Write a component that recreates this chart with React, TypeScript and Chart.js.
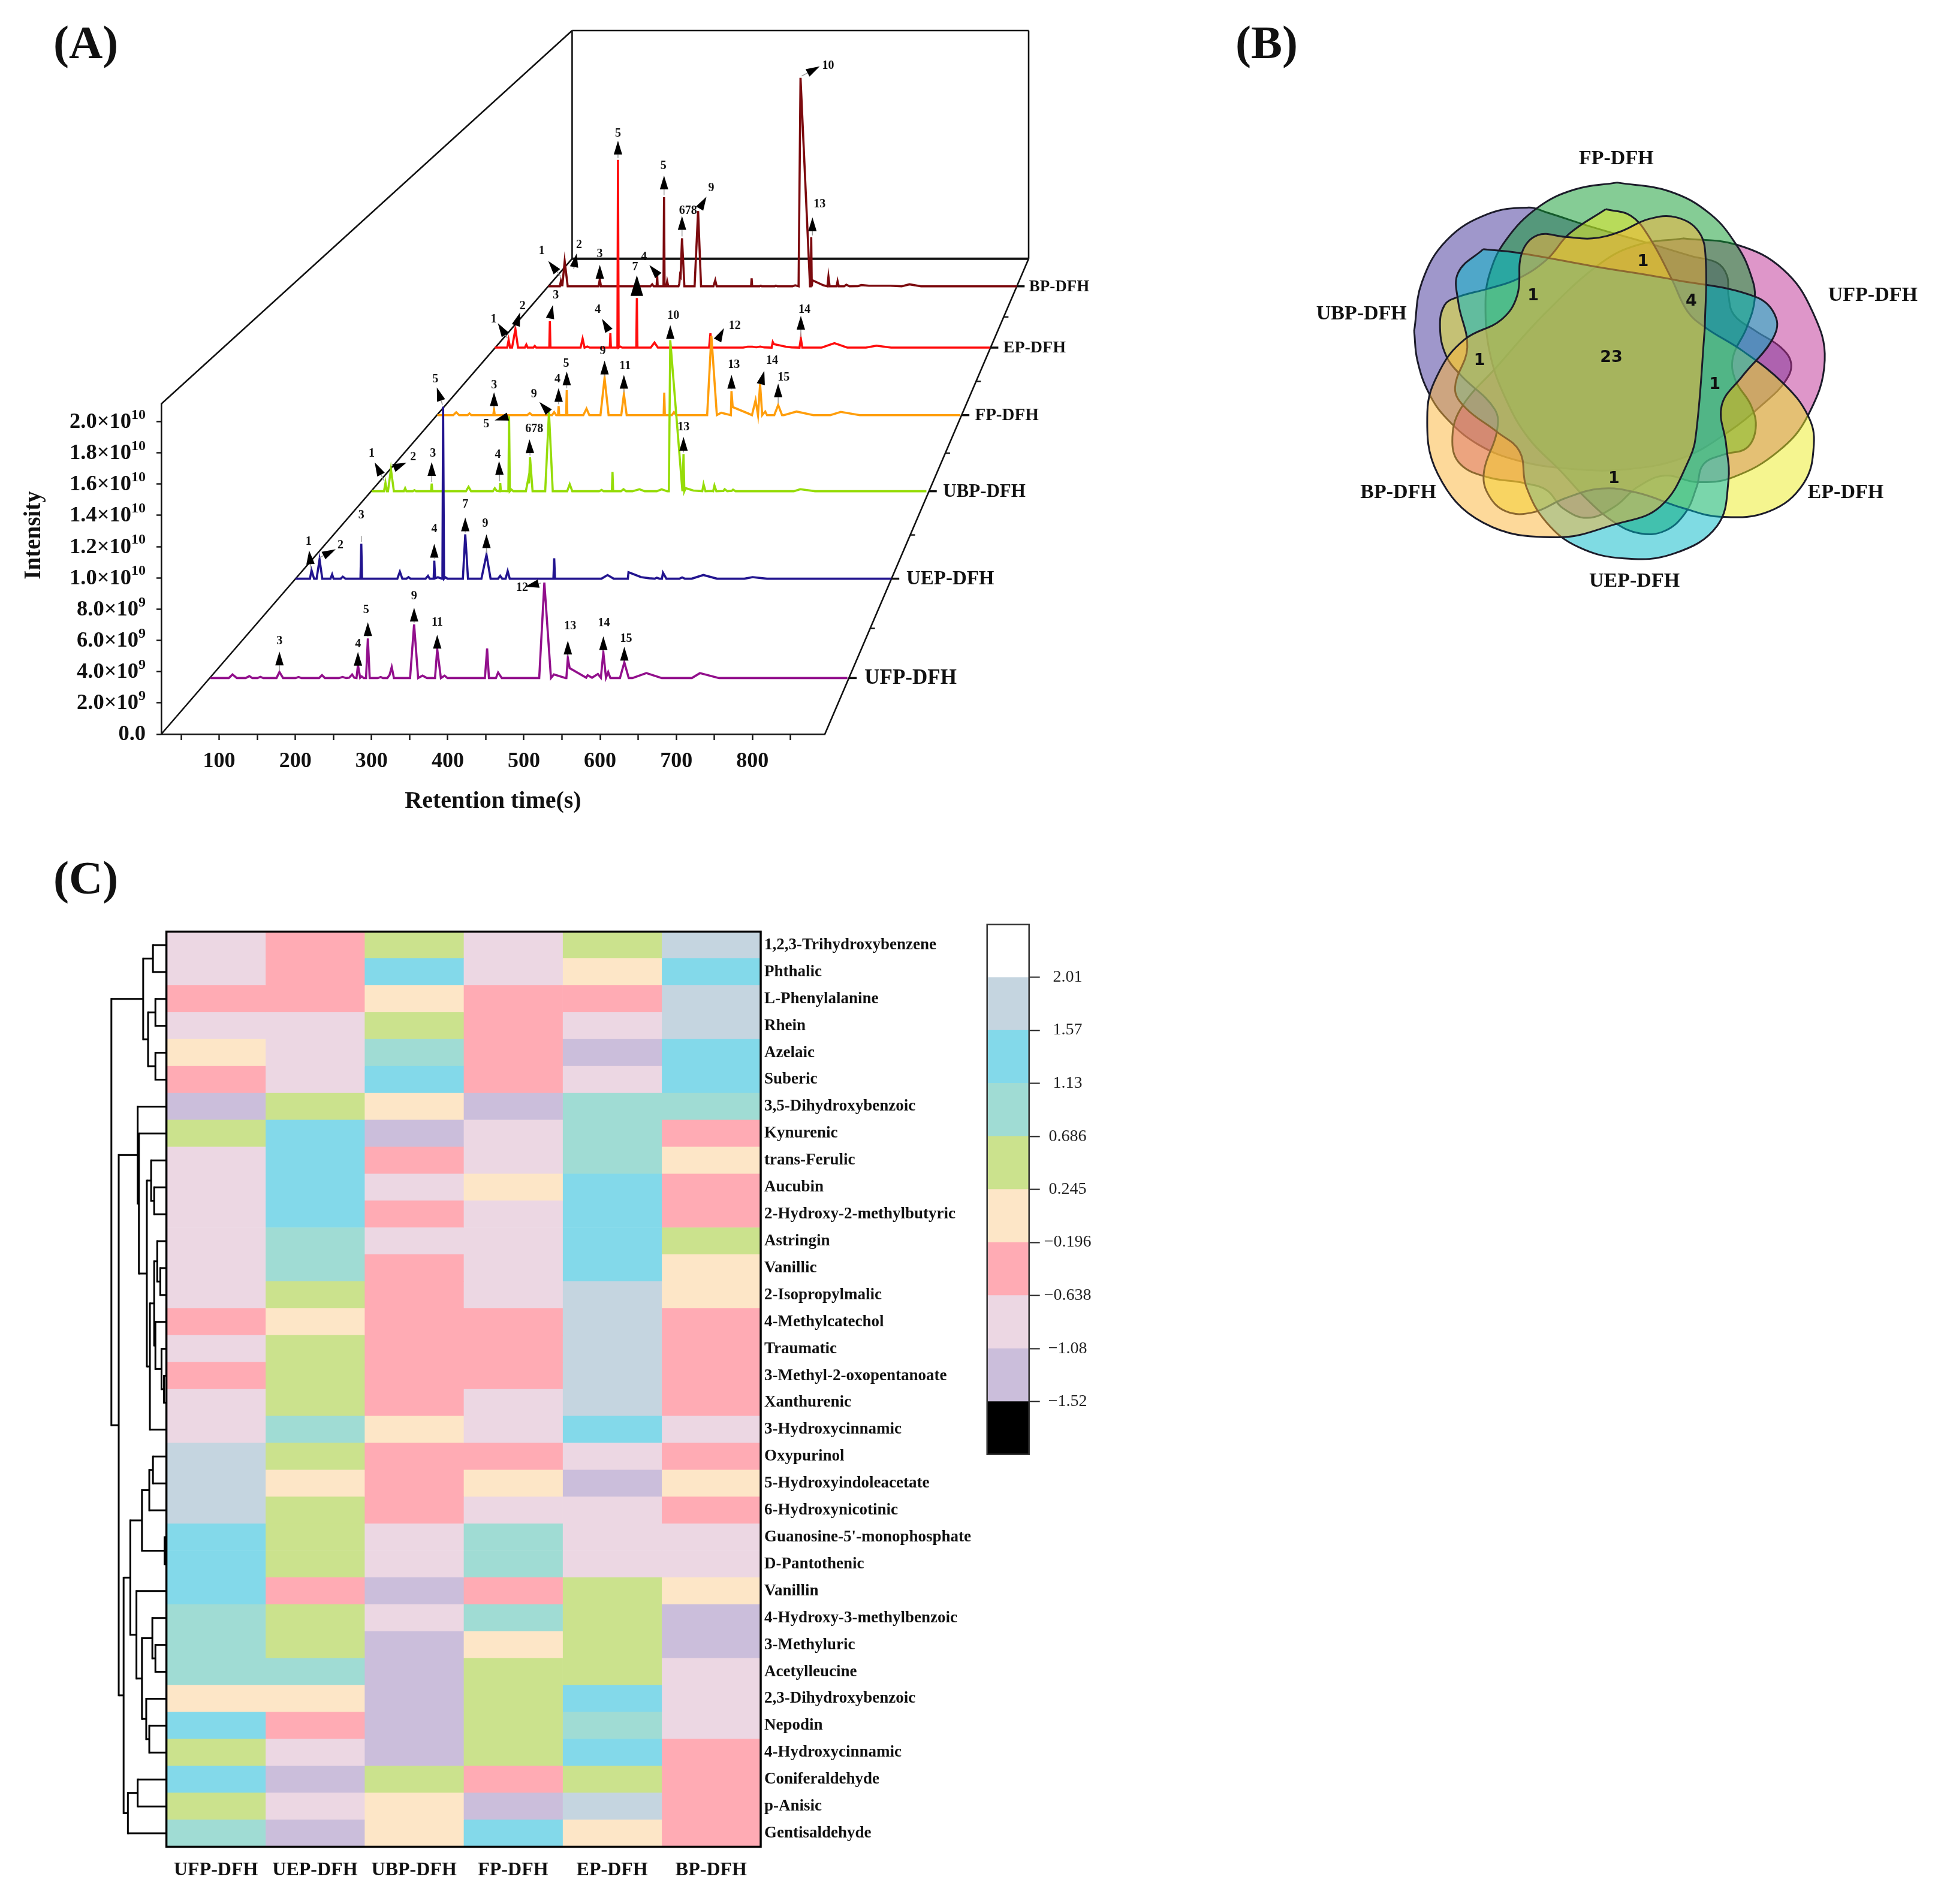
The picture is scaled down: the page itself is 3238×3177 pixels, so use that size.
import React, { useEffect, useRef } from "react";
import { Chart, registerables } from "chart.js";

Chart.register(...registerables);

const SERIF = '"Liberation Serif"';

/* ---------- Panel A: chromatogram traces, [retention time (s), intensity (1e9)] ---------- */
const SERIES_NAMES = ["UFP-DFH", "UEP-DFH", "UBP-DFH", "FP-DFH", "EP-DFH", "BP-DFH"];

const ufpTrace = [[25,0],[50,0],[55,.24],[61,0],[73,0],[78,.13],[82,0],[89,0],[93,.08],[97,0],[115,0],[119,.4],[124,0],[141,0],[145,.07],[149,0],[173,0],[177,.19],[181,0],[200,0],[205,.07],[210,0],[214,.02],[218,.24],[221,.02],[224,0],[226,.86],[229,.02],[231,.11],[234,0],[237,0],[239.5,2.63],[242,0],[253,0],[257,.07],[260,0],[266,0],[269,.2],[272,.73],[275,0],[297,0],[302.5,3.56],[308,0],[314,.16],[320,0],[331,0],[334,1.92],[339,0],[344,.16],[348,0],[399,0],[402,1.96],[404.5,0],[414,0],[417,.37],[422,0],[473,0],[480,6.34],[489,0],[493,.24],[509,0],[510,0],[512,1.33],[514.5,.66],[537,.02],[539,.19],[545,.02],[553,.27],[557,.02],[560.4,1.7],[564,.02],[567,.4],[570,0],[583,0],[589,1.04],[595,0],[600,0],[619,.33],[640,0],[681,0],[692,.33],[718,0],[893,0]];
const uepTrace = [[24,0],[45,0],[47.3,.6],[51,0],[54.7,0],[59,1.37],[63,0],[75,0],[77.4,.31],[79.5,0],[90,0],[93,.14],[97,0],[118.8,0],[120,2.49],[121.2,0],[172.7,0],[176.4,.5],[180,0],[186,0],[189,.11],[192,0],[214,0],[217.5,.2],[220,0],[225.8,0],[226.7,1.28],[228,.03],[232,.1],[238,0],[238.6,0],[239.6,12.25],[241,0],[243,.1],[246,0],[268.5,0],[272,3.16],[276,0],[295.6,0],[303,1.71],[309,0],[320,0],[323,.2],[326,0],[331,0],[334,.54],[337,0],[400.8,0],[402,1.45],[403.2,0],[471,0],[480,.26],[489,0],[509.6,0],[510.6,.46],[529,.11],[541,.03],[549,0],[552,.07],[556,0],[559.5,0],[561,.43],[566,0],[585,0],[589,.09],[593,0],[603,0],[620,.26],[640,0],[680,0],[692,.11],[713,0],[895,0]];
const ubpTrace = [[24.6,0],[44,0],[46.3,.64],[48.5,0],[50.2,0],[54.8,1.67],[59.4,0],[75,0],[77,.23],[79,0],[89,0],[91.6,.08],[94,0],[117.5,0],[118.5,.58],[119.5,0],[172,0],[176,.33],[180,0],[214,0],[217,.23],[220,.03],[224.5,0],[225.5,.61],[226.5,.02],[238.2,0],[239.3,5.7],[240.5,0],[243,.12],[246,0],[265.5,0],[269.5,.99],[270.5,.6],[272,2.58],[276,0],[295.7,0],[301.6,6.0],[307.5,0],[330,0],[334,.53],[338,0],[380,0],[383.7,.09],[387,0],[399.8,0],[400.8,1.46],[401.8,0],[414,0],[418,.15],[422,0],[432,0],[443,.15],[451,0],[470,0],[477.6,.15],[486,0],[488.8,0],[491,11.48],[510,0],[511.7,2.81],[513,0],[515,.23],[527,.05],[541,0],[543,.53],[546,0],[556,.02],[558,0],[560,.43],[563,0],[574,.02],[576,.15],[580,0],[587,.03],[589,.12],[593,0],[684,0],[694,.15],[717,0],[891,0]];
const fpTrace = [[24.6,0],[51,0],[56,.23],[61,0],[75,0],[78,.13],[81,0],[117.5,0],[118.8,.45],[120,0],[174,0],[178,.16],[182,0],[215,0],[218.6,.24],[222,0],[225,0],[226,.73],[227,0],[238.5,0],[239.5,2.02],[240.5,0],[267,0],[272.3,.52],[277,0],[295.5,0],[302.3,3.0],[309,0],[330,0],[334.4,1.7],[339,0],[400.4,0],[401.4,1.81],[402.4,0],[414,0],[417.5,.24],[421,0],[472.6,0],[479.6,6.39],[488.7,0],[496,.19],[505,.08],[512,0],[513,1.94],[515,.65],[541,.13],[547,0],[553,1.21],[557,0],[560.5,2.51],[564,0],[569,.29],[572,0],[584,0],[590.5,.81],[597,0],[600,0],[621,.29],[649,0],[677,0],[694.5,.26],[726,0],[893,0]];
const epTrace = [[23.1,0],[45,0],[47.5,.65],[50,0],[53.5,0],[59.4,1.58],[64,0],[76,0],[78.6,.26],[81,0],[91,0],[93.4,.14],[96,0],[119,0],[120,2.26],[121,0],[174,0],[177.6,.77],[181,0],[186,.09],[190,0],[225.4,0],[226.4,1.23],[227.4,0],[238.8,0],[239.8,16.05],[241,0],[244,.09],[247,0],[272,0],[273,4.24],[274,0],[297.4,0],[304,.43],[310,0],[400,0],[402.4,1.23],[404,0],[460,0],[468,.08],[476,.08],[483,.03],[490,.09],[497,.02],[510,0],[512,.48],[514,.3],[535,.08],[545,.02],[559,0],[561.4,.77],[564,0],[598,0],[620.5,.38],[643,0],[676,0],[694.4,.17],[720,0],[894,0]];
const bpTrace = [[24,0],[45.5,0],[47.4,.45],[49,.1],[50.2,.1],[54.5,2.26],[60.1,0],[117.5,0],[119.8,.63],[122,0],[214,0],[217.2,.18],[220,0],[225.4,0],[226.4,1.0],[227.4,0],[238.2,0],[239.2,8.05],[240.2,0],[243.5,0],[245,.45],[247,0],[266,0],[267.5,.2],[269,1.0],[270,.9],[272.6,4.34],[277,0],[296,0],[302.5,6.79],[308,0],[331,0],[334.4,.54],[337,0],[401,0],[402,.72],[403,0],[417,0],[419,.05],[421,0],[445,0],[447,.05],[450,0],[478,0],[483,.09],[489.3,0],[492.9,18.82],[510.6,0],[511.8,0],[512.8,4.43],[513.8,0],[515,.54],[535.5,.09],[543,0],[544.8,.87],[547,0],[560,0],[561.8,.45],[564,0],[574,0],[578,.14],[584,0],[600,.02],[606,.11],[620,.05],[640,.05],[660,.05],[681,0],[695.4,.18],[717,0],[894.7,0]];
const TRACES = [ufpTrace, uepTrace, ubpTrace, fpTrace, epTrace, bpTrace];

/* peak marks: retention time, intensity, compound number */
const ufpMarks = [[119,.4,"3"],[226,.86,"4"],[239.5,2.63,"5"],[302.5,3.56,"9"],[334,1.92,"11"],[480,6.34,"12"],[512,1.33,"13"],[560.4,1.7,"14"],[589,1.04,"15"]];
const uepMarks = [[47.3,.6,"1"],[59,1.37,"2"],[120,2.49,"3"],[226.7,1.28,"4"],[239.6,12.25,"5"],[272,3.16,"7"],[303,1.71,"9"]];
const ubpMarks = [[46.3,.64,"1"],[54.8,1.67,"2"],[118.5,.58,"3"],[225.5,.61,"4"],[239.3,5.7,"5"],[272,2.58,"678"],[301.6,6.0,"9"],[491,11.48,"10"],[511.7,2.81,"13"]];
const fpMarks = [[118.8,.45,"3"],[226,.73,"4"],[239.5,2.02,"5"],[302.3,3.0,"9"],[334.4,1.7,"11"],[479.6,6.39,"12"],[513,1.94,"13"],[560.5,2.51,"14"],[590.5,.81,"15"]];
const epMarks = [[47.5,.65,"1"],[59.4,1.58,"2"],[120,2.26,"3"],[226.4,1.23,"4"],[239.8,16.05,"5"],[273,4.24,"7"],[561.4,.77,"14"]];
const bpMarks = [[47.4,.45,"1"],[54.5,2.26,"2"],[119.8,.63,"3"],[226.4,1,"4"],[239.2,8.05,"5"],[272.6,4.34,"678"],[302.5,6.79,"9"],[492.9,18.82,"10"],[512.8,4.43,"13"]];
const MARKS = [ufpMarks, uepMarks, ubpMarks, fpMarks, epMarks, bpMarks];

/* arrow drawing offsets in px from the peak apex (style only): from, tip, label, head scale */
const ARROW_STYLE = [
  [[0,-3,0,-34,0,-52],[0,-3,0,-22,0,-35],[0,-3,0,-27,-3,-47],[0,-3,0,-28,0,-47],[0,-3,0,-24,0,-44],[-6,1,-32,7,-37,9],[0,-3,0,-29,4,-53],[0,-3,0,-27,1,-49],[0,-3,0,-26,3,-39]],
  [[-1,-3,-4,-33,-5,-48],[0,-3,27,-17,35,-24],[0,-3,0,-13,0,-47,0],[0,-3,0,-28,0,-53],[-1,-3,-10.5,-32,-13,-46],[0,-3,0,-28,0,-50],[0,-3,0,-34,-2,-52]],
  [[-2,-3,-18,-34,-23,-49],[5,-2,26,-11,37,-20],[0,-3,0,-36,2,-50],[-1,-3,-2,-37,-4,-47],[-3,1,-24,7,-38,13],[0,-3,-1,-30,7,-47],[-2,-2,-16,-17,-25,-30],[0,-3,0,-25,5,-41],[0,-3,0,-29,0,-45]],
  [[0,-3,0,-29,0,-41],[0,-3,0,-30,-2,-45],[0,-3,0,-31,-1,-44],[0,-3,0,-29,-3,-45],[0,-3,0,-32,2,-47],[11,6,21,-13,39,-17],[0,-3,0,-27,4,-44],[2,-3,7,-22,20,-39],[0,-3,0,-36,9,-46]],
  [[-2,-3,-18,-28,-25,-35],[0,-4,8,-28,12,-38],[0,-3,5,-27,10,-43],[-3,-5,-14,-24,-21,-39],[0,-3,0,-32,0,-44],[0,-3,0,-38,-3,-51,1.5],[0,-3,0,-38,6,-48]],
  [[0,-8,-21,-34,-32,-51],[15,13,20,-13,24,-27],[0,-3,0,-24,0,-42],[-1,-3,-13,-17,-22,-30],[0,-3,0,-36,-1,-52],[0,-3,0,-37,10,-46],[3,-5,14,-24,22,-38],[2,-3,32,-19,46,-20],[2,-3,2,-33,14,-55]],
];
const TRACE_COLORS = ["#920F8C", "#22148F", "#96DC08", "#FF9E0C", "#FF0D0D", "#7C0A0E"];
const TRACE_DEPTH = [0.118, 0.327, 0.511, 0.671, 0.813, 0.942];
const NAME_FONT = [35, 33, 31, 29, 28, 27];
const RT_MIN = 24, RT_MAX = 895, I_MAX = 21.13;
const Y_TICKS = [0,2,4,6,8,10,12,14,16,18,20];
const FRONT = { l: 269, r: 1376, t: 674, b: 1225 };
const BACK = { l: 954.4, r: 1716, t: 51, b: 431.7 };
const lerp = (a: number, b: number, t: number) => a + (b - a) * t;
const plane = (t: number) => ({
  l: lerp(FRONT.l, BACK.l, t), r: lerp(FRONT.r, BACK.r, t),
  t: lerp(FRONT.t, BACK.t, t), b: lerp(FRONT.b, BACK.b, t),
});

function traceScales() {
  const out: any = {};
  TRACE_DEPTH.forEach((d, i) => {
    const p = plane(d);
    const u = (p.r - p.l) / (RT_MAX - RT_MIN);
    const k = (p.b - p.t) / I_MAX;
    const xMin = RT_MIN + (FRONT.l - p.l) / u, xMax = RT_MIN + (FRONT.r - p.l) / u;
    /* limits are set after tick building so the line controller keeps points past the chart's right edge */
    out["x" + i] = { type: "linear", axis: "x", display: false, afterBuildTicks: (s: any) => { s.min = xMin; s.max = xMax; } };
    out["y" + i] = { type: "linear", axis: "y", display: false, min: (p.b - FRONT.b) / k, max: (p.b - FRONT.t) / k };
  });
  return out;
}

function seg(ctx: any, x1: number, y1: number, x2: number, y2: number) {
  ctx.beginPath(); ctx.moveTo(x1, y1); ctx.lineTo(x2, y2); ctx.stroke();
}

const panelAFrame = {
  id: "panelAFrame",
  beforeDatasetsDraw(chart: any) {
    const c = chart.ctx;
    c.save();
    c.strokeStyle = "#111"; c.lineWidth = 2.6;
    seg(c, FRONT.l, FRONT.b, BACK.l, BACK.b);
    seg(c, FRONT.l, FRONT.t, BACK.l, BACK.t);
    seg(c, FRONT.r, FRONT.b, BACK.r, BACK.b);
    seg(c, BACK.l, BACK.t, BACK.r, BACK.t);
    seg(c, BACK.l, BACK.t, BACK.l, BACK.b);
    seg(c, BACK.r, BACK.t, BACK.r, BACK.b);
    c.lineWidth = 4; seg(c, BACK.l, BACK.b, BACK.r, BACK.b);
    c.lineWidth = 2.4;
    for (let i = 0; i < TRACE_DEPTH.length - 1; i++) {
      const p = plane((TRACE_DEPTH[i] + TRACE_DEPTH[i + 1]) / 2);
      seg(c, p.r, p.b, p.r + 8, p.b);
    }
    c.restore();
  },
  afterDatasetsDraw(chart: any) {
    const c = chart.ctx;
    c.save();
    TRACE_DEPTH.forEach((d, i) => {
      const p = plane(d);
      c.strokeStyle = "#111"; c.lineWidth = 3.5;
      seg(c, p.r, p.b, p.r + 13, p.b);
      c.fillStyle = "#111"; c.font = `bold ${NAME_FONT[i]}px ${SERIF}`;
      c.textAlign = "left"; c.textBaseline = "middle";
      c.fillText(SERIES_NAMES[i], p.r + 20 + 7 * (1 - d), p.b + 1);
      const xs = chart.scales["x" + i], ys = chart.scales["y" + i];
      MARKS[i].forEach((m: any, j: number) => {
        const [fx, fy, tx, ty, lx, ly, hs = 1] = ARROW_STYLE[i][j] as number[];
        const ax = xs.getPixelForValue(m[0]), ay = ys.getPixelForValue(m[1]);
        const dx = tx - fx, dy = ty - fy, len = Math.hypot(dx, dy) || 1;
        const ux = dx / len, uy = dy / len;
        const hl = 23 * hs, hw = 7 * hs;
        c.strokeStyle = "#9a9a9a"; c.lineWidth = 1.5;
        const tailEnd = hs ? Math.max(len - hl, 0) : len;
        seg(c, ax + fx, ay + fy, ax + fx + ux * tailEnd, ay + fy + uy * tailEnd);
        if (hs) {
          const bx = ax + tx - ux * hl, by = ay + ty - uy * hl;
          c.fillStyle = "#000";
          c.beginPath();
          c.moveTo(ax + tx, ay + ty);
          c.lineTo(bx - uy * hw, by + ux * hw);
          c.lineTo(bx + uy * hw, by - ux * hw);
          c.closePath(); c.fill();
        }
        c.fillStyle = "#111"; c.font = `bold 20px ${SERIF}`;
        c.textAlign = "center"; c.textBaseline = "middle";
        c.fillText(m[2], ax + lx, ay + ly);
      });
    });
    /* intensity tick labels with a real superscript exponent */
    const ym = chart.scales.yMain;
    c.fillStyle = "#111";
    Y_TICKS.forEach((v) => {
      const y = ym.getPixelForValue(v);
      const base = v === 0 ? "0.0" : (v < 10 ? v.toFixed(1) : (v / 10).toFixed(1)) + "\u00D710";
      const exp = v === 0 ? "" : v < 10 ? "9" : "10";
      c.textBaseline = "middle"; c.textAlign = "left";
      c.font = `bold 24px ${SERIF}`;
      const ew = c.measureText(exp).width;
      c.font = `bold 36.5px ${SERIF}`;
      const bw = c.measureText(base).width;
      const right = FRONT.l - 26;
      c.fillText(base, right - ew - bw, y + 1);
      c.font = `bold 24px ${SERIF}`;
      c.fillText(exp, right - ew, y - 11);
    });
    c.font = `bold 39px ${SERIF}`;
    c.translate(57, 893); c.rotate(-Math.PI / 2);
    c.textAlign = "center"; c.textBaseline = "middle";
    c.fillText("Intensity", 0, 0);
    c.restore();
  },
};

/* ---------- Panel B: six-set Venn outlines, in Venn-plane units ---------- */
const VENN_EXTENT = 1568;
const bpOutline = [[1048,640],[1050,430],[1035,345],[985,300],[925,305],[860,345],[800,365],[740,360],[680,355],[645,410],[635,540],[600,615],[520,675],[465,770],[437,900],[460,1090],[560,1240],[720,1285],[850,1245],[950,1190],[1015,1040],[1030,950],[1048,640]];
const uepOutline = [[560,398],[640,410],[800,450],[980,492],[1160,545],[1205,610],[1195,680],[1130,790],[1085,880],[1095,1000],[1100,1110],[1075,1250],[980,1335],[870,1350],[770,1315],[700,1240],[655,1130],[640,1020],[590,960],[520,885],[498,825],[525,700],[505,560],[505,470],[560,398]];
const ubpOutline = [[408,650],[425,500],[480,370],[570,290],[660,270],[700,285],[800,330],[920,378],[1020,420],[1075,440],[1097,480],[1100,540],[1112,600],[1160,650],[1215,700],[1238,750],[1225,805],[1180,870],[1100,960],[1000,1040],[880,1075],[760,1075],[640,1050],[550,1000],[480,920],[440,840],[415,740],[408,650]];
const epOutline = [[830,275],[885,295],[925,360],[975,490],[1010,590],[1050,640],[1130,710],[1220,810],[1275,910],[1288,1000],[1265,1120],[1190,1205],[1085,1222],[1000,1195],[900,1148],[820,1135],[740,1165],[670,1208],[610,1205],[570,1150],[562,1080],[590,960],[585,890],[510,785],[478,725],[465,640],[475,570],[505,545],[570,520],[635,490],[700,430],[750,350],[830,275]];
const fpOutline = [[855,193],[970,220],[1060,290],[1120,390],[1150,480],[1158,550],[1140,640],[1110,730],[1115,800],[1150,880],[1160,950],[1140,1010],[1090,1030],[1045,1060],[1030,1130],[1005,1210],[960,1265],[905,1273],[850,1240],[790,1170],[730,1080],[660,980],[610,860],[575,720],[565,570],[575,470],[610,370],[680,270],[760,215],[855,193]];
const ufpOutline = [[1000,365],[1120,385],[1220,460],[1285,590],[1312,740],[1275,910],[1210,1020],[1110,1100],[1030,1115],[960,1095],[900,1130],[850,1190],[790,1225],[735,1195],[700,1140],[650,1118],[570,1100],[510,1060],[492,990],[510,890],[590,760],[700,590],[820,440],[900,385],[1000,365]];
const VENN_SETS = [
  { name: "BP-DFH", pts: bpOutline, fill: "rgba(251,179,53,0.5)" },
  { name: "UEP-DFH", pts: uepOutline, fill: "rgba(0,183,199,0.5)" },
  { name: "EP-DFH", pts: epOutline, fill: "rgba(235,235,31,0.5)" },
  { name: "FP-DFH", pts: fpOutline, fill: "rgba(11,153,43,0.5)" },
  { name: "UFP-DFH", pts: ufpOutline, fill: "rgba(189,45,147,0.5)" },
  { name: "UBP-DFH", pts: ubpOutline, fill: "rgba(63,47,151,0.5)" },
];
const vennNames = [["FP-DFH",853,120],["UFP-DFH",1418,540],["EP-DFH",1358,1148],["UEP-DFH",893,1420],["BP-DFH",373,1148],["UBP-DFH",292,598]];
const vennCounts = [["23",842,732],["1",912,437],["1",670,543],["4",1018,558],["1",552,742],["1",1070,815],["1",848,1105]];

const vennText = {
  id: "vennText",
  afterDatasetsDraw(chart: any) {
    const c = chart.ctx, xs = chart.scales.x, ys = chart.scales.y;
    c.save();
    c.textAlign = "center"; c.textBaseline = "middle"; c.fillStyle = "#111";
    c.font = `bold 34px ${SERIF}`;
    vennNames.forEach((n: any) => c.fillText(n[0], xs.getPixelForValue(n[1]), ys.getPixelForValue(n[2])));
    c.font = 'bold 27px "DejaVu Sans"';
    vennCounts.forEach((n: any) => c.fillText(n[0], xs.getPixelForValue(n[1]), ys.getPixelForValue(n[2])));
    c.restore();
  },
};

/* ---------- Panel C: heat map ---------- */
const COMPOUNDS = ["1,2,3-Trihydroxybenzene","Phthalic","L-Phenylalanine","Rhein","Azelaic","Suberic","3,5-Dihydroxybenzoic","Kynurenic","trans-Ferulic","Aucubin","2-Hydroxy-2-methylbutyric","Astringin","Vanillic","2-Isopropylmalic","4-Methylcatechol","Traumatic","3-Methyl-2-oxopentanoate","Xanthurenic","3-Hydroxycinnamic","Oxypurinol","5-Hydroxyindoleacetate","6-Hydroxynicotinic","Guanosine-5'-monophosphate","D-Pantothenic","Vanillin","4-Hydroxy-3-methylbenzoic","3-Methyluric","Acetylleucine","2,3-Dihydroxybenzoic","Nepodin","4-Hydroxycinnamic","Coniferaldehyde","p-Anisic","Gentisaldehyde"];
const zUFP = [-.86,-.86,-.42,-.86,.02,-.42,-1.3,.47,-.86,-.86,-.86,-.86,-.86,-.86,-.42,-.86,-.42,-.86,-.86,1.79,1.79,1.79,1.35,1.35,1.35,.91,.91,.91,.02,1.35,.47,1.35,.47,.91];
const zUEP = [-.42,-.42,-.42,-.86,-.86,-.86,.47,1.35,1.35,1.35,1.35,.91,.91,.47,.02,.47,.47,.47,.91,.47,.02,.47,.47,.47,-.42,.47,.47,.91,.02,-.42,-.86,-1.3,-.86,-1.3];
const zUBP = [.47,1.35,.02,.47,.91,1.35,.02,-1.3,-.42,-.86,-.42,-.86,-.42,-.42,-.42,-.42,-.42,-.42,.02,-.42,-.42,-.42,-.86,-.86,-1.3,-.86,-1.3,-1.3,-1.3,-1.3,-1.3,.47,.02,.02];
const zFP = [-.86,-.86,-.42,-.42,-.42,-.42,-1.3,-.86,-.86,.02,-.86,-.86,-.86,-.86,-.42,-.42,-.42,-.86,-.86,-.42,.02,-.86,.91,.91,-.42,.91,.02,.47,.47,.47,.47,-.42,-1.3,1.35];
const zEP = [.47,.02,-.42,-.86,-1.3,-.86,.91,.91,.91,1.35,1.35,1.35,1.35,1.79,1.79,1.79,1.79,1.79,1.35,-.86,-1.3,-.86,-.86,-.86,.47,.47,.47,.47,1.35,.91,1.35,.47,1.79,.02];
const zBP = [1.79,1.35,1.79,1.79,1.35,1.35,.91,-.42,.02,-.42,-.42,.47,.02,.02,-.42,-.42,-.42,-.42,-.86,-.42,.02,-.42,-.86,-.86,.02,-1.3,-1.3,-.86,-.86,-.86,-.42,-.42,-.42,-.42];
const HEAT_COLUMNS = [zUFP, zUEP, zUBP, zFP, zEP, zBP];
const COLOR_EDGES = [-1.96,-1.52,-1.08,-.638,-.196,.245,.686,1.13,1.57,2.01,2.45];
const COLOR_BINS = ["#000000","#CBBEDB","#ECD7E3","#FFABB4","#FDE6C7","#CBE28D","#A0DCD4","#83D9EA","#C5D5E0","#FFFFFF"];
const COLOR_TICKS = [2.01,1.57,1.13,.686,.245,-.196,-.638,-1.08,-1.52];
const COLOR_TICK_TEXT = ["2.01","1.57","1.13","0.686","0.245","\u22120.196","\u22120.638","\u22121.08","\u22121.52"];
const colorFor = (z: number) => {
  for (let i = 0; i < COLOR_BINS.length; i++) if (z < COLOR_EDGES[i + 1]) return COLOR_BINS[i];
  return COLOR_BINS[COLOR_BINS.length - 1];
};
/* row clustering: [merge height, child, child]; a number is a row index */
const DENDROGRAM: any = [90,
  [38,[22,0,1],[30,[18,2,3],[18,4,5]]],
  [78,
    [47,6,[45,7,[32,[25,8,[20,9,10]],[27,[20,[15,11,[10,12,13]],[18,14,[8,15,[4,16,17]]]],18]]]],
    [70,[59,[40,[28,[22,19,20],21],[3,22,23]],[49,24,[40,[23,25,[18,26,27]],[33,28,[28,29,30]]]]],[63,[47,31,32],33]],
  ],
];

const heatDecor = {
  id: "heatDecor",
  afterDraw(chart: any) {
    const c = chart.ctx, a = chart.chartArea, ys = chart.scales.y;
    c.save();
    c.strokeStyle = "#000"; c.lineWidth = 3.5;
    c.strokeRect(a.left, a.top, a.right - a.left, a.bottom - a.top);
    c.lineWidth = 3;
    const walk = (n: any): { x: number; y: number } => {
      if (typeof n === "number") return { x: a.left, y: ys.getPixelForValue(n) };
      const p = walk(n[1]), q = walk(n[2]);
      const x = a.left - n[0] * 1.02;
      seg(c, p.x, p.y, x, p.y);
      seg(c, q.x, q.y, x, q.y);
      seg(c, x, p.y - 1.5, x, q.y + 1.5);
      return { x, y: (p.y + q.y) / 2 };
    };
    walk(DENDROGRAM);
    c.restore();
  },
};
const barOutline = {
  id: "barOutline",
  afterDraw(chart: any) {
    const c = chart.ctx, a = chart.chartArea;
    c.save(); c.strokeStyle = "#333"; c.lineWidth = 2.5;
    c.strokeRect(a.left, a.top, a.right - a.left, a.bottom - a.top);
    c.restore();
  },
};

const panelLetter = (text: string, left: number, top: number) => (
  <div style={{ position: "absolute", left, top, font: `bold 78px ${SERIF}`, lineHeight: "78px", color: "#111" }}>{text}</div>
);

export default function App() {
  const aRef = useRef<HTMLCanvasElement>(null);
  const bRef = useRef<HTMLCanvasElement>(null);
  const cRef = useRef<HTMLCanvasElement>(null);
  const dRef = useRef<HTMLCanvasElement>(null);

  useEffect(() => {
    const base = { animation: false as const, responsive: false, devicePixelRatio: 1 };
    const charts: Chart[] = [];

    charts.push(new Chart(aRef.current as any, {
      type: "scatter",
      data: {
        datasets: TRACES.map((t, i) => ({
          label: SERIES_NAMES[i],
          data: t.map(([x, y]) => ({ x, y })),
          xAxisID: "x" + i, yAxisID: "y" + i,
          showLine: true, pointRadius: 0, borderColor: TRACE_COLORS[i], borderWidth: 3.6,
          tension: 0, clip: false as any,
        })),
      },
      options: {
        ...base,
        layout: { padding: { top: FRONT.t, right: 1900 - FRONT.r, bottom: 38, left: 0 } },
        plugins: { legend: { display: false }, tooltip: { enabled: false } },
        scales: {
          ...traceScales(),
          xMain: {
            type: "linear", axis: "x", position: "bottom", min: RT_MIN, max: RT_MAX,
            afterFit: (s: any) => { s.height = 137; s.paddingLeft = 0; s.paddingRight = 0; },
            afterBuildTicks: (s: any) => { s.ticks = [50,100,150,200,250,300,350,400,450,500,550,600,650,700,750,800,850].map((value) => ({ value })); },
            border: { color: "#111", width: 2.6 },
            grid: { drawOnChartArea: false, tickLength: 10, tickColor: "#111", tickWidth: 2.4 },
            ticks: { autoSkip: false, maxRotation: 0, padding: 14, color: "#111", font: { family: SERIF, weight: "bold", size: 36 }, callback: (v: any) => (v % 100 === 0 ? String(v) : "") },
            title: { display: true, text: "Retention time(s)", color: "#111", font: { family: SERIF, weight: "bold", size: 40 }, padding: 0 },
          },
          yMain: {
            type: "linear", axis: "y", position: "left", min: 0, max: I_MAX,
            afterFit: (s: any) => { s.width = FRONT.l; s.paddingTop = 0; s.paddingBottom = 0; },
            afterBuildTicks: (s: any) => { s.ticks = Y_TICKS.map((value) => ({ value })); },
            border: { color: "#111", width: 2.6 },
            grid: { drawOnChartArea: false, tickLength: 8, tickColor: "#111", tickWidth: 2.4 },
            ticks: { display: false },
          },
        } as any,
      },
      plugins: [panelAFrame],
    } as any));

    charts.push(new Chart(bRef.current as any, {
      type: "scatter",
      data: {
        datasets: VENN_SETS.map((s) => ({
          label: s.name,
          data: s.pts.map(([x, y]) => ({ x, y })),
          showLine: true, pointRadius: 0, tension: 0.4,
          borderColor: "#1c1c2a", borderWidth: 3, backgroundColor: s.fill, fill: "shape",
        })),
      },
      options: {
        ...base,
        layout: { padding: 0 },
        plugins: { legend: { display: false }, tooltip: { enabled: false } },
        scales: {
          x: { type: "linear", display: false, min: 0, max: VENN_EXTENT },
          y: { type: "linear", display: false, min: 0, max: VENN_EXTENT, reverse: true },
        },
      },
      plugins: [vennText],
    } as any));

    charts.push(new Chart(cRef.current as any, {
      type: "bar",
      data: {
        labels: COMPOUNDS,
        datasets: HEAT_COLUMNS.map((col, i) => ({
          label: SERIES_NAMES[i],
          data: col.map(() => 1),
          backgroundColor: col.map(colorFor),
          borderWidth: 0, barPercentage: 1, categoryPercentage: 1,
        })),
      },
      options: {
        ...base,
        indexAxis: "y",
        layout: { padding: { left: 277.6, top: 154.5, right: 131, bottom: 35.5 } },
        plugins: { legend: { display: false }, tooltip: { enabled: false } },
        scales: {
          x: {
            type: "linear", stacked: true, min: 0, max: 6,
            afterFit: (s: any) => { s.height = 60; s.paddingLeft = 0; s.paddingRight = 0; },
            afterBuildTicks: (s: any) => { s.ticks = [.5,1.5,2.5,3.5,4.5,5.5].map((value) => ({ value })); },
            border: { display: false }, grid: { display: false, drawTicks: false },
            ticks: { autoSkip: false, maxRotation: 0, padding: 20, color: "#111", font: { family: SERIF, weight: "bold", size: 32 }, callback: (_v: any, i: number) => ["UFP-DFH","UEP-DFH","UBP-DFH","FP-DFH","EP-DFH","BP-DFH"][i] },
          },
          y: {
            type: "category", stacked: true, position: "right",
            afterFit: (s: any) => { s.width = 500; s.paddingTop = 0; s.paddingBottom = 0; },
            border: { display: false }, grid: { display: false, drawTicks: false },
            ticks: { autoSkip: false, padding: 6, crossAlign: "near", color: "#111", font: { family: SERIF, weight: "bold", size: 27 } },
          },
        },
      },
      plugins: [heatDecor],
    } as any));

    charts.push(new Chart(dRef.current as any, {
      type: "bar",
      data: {
        labels: ["z"],
        datasets: COLOR_BINS.map((color, i) => ({
          label: "bin" + i,
          data: [[COLOR_EDGES[i], COLOR_EDGES[i + 1]]],
          backgroundColor: color, borderWidth: 0, grouped: false, barPercentage: 1, categoryPercentage: 1,
        })),
      },
      options: {
        ...base,
        layout: { padding: { left: 6.7, top: 12.7, right: 33.3, bottom: 13.3 } },
        plugins: { legend: { display: false }, tooltip: { enabled: false } },
        scales: {
          x: { display: false },
          y: {
            type: "linear", position: "right", min: COLOR_EDGES[0], max: COLOR_EDGES[10],
            afterFit: (s: any) => { s.width = 150; s.paddingTop = 0; s.paddingBottom = 0; },
            afterBuildTicks: (s: any) => { s.ticks = COLOR_TICKS.map((value) => ({ value })); },
            border: { display: false },
            grid: { drawOnChartArea: false, tickLength: 18, tickColor: "#222", tickWidth: 2 },
            ticks: { autoSkip: false, padding: 7, crossAlign: "center", color: "#222", font: { family: SERIF, size: 28 }, callback: (v: any) => COLOR_TICK_TEXT[COLOR_TICKS.indexOf(v)] },
          },
        },
      },
      plugins: [barOutline],
    } as any));

    return () => charts.forEach((c) => c.destroy());
  }, []);

  const abs = (left: number, top: number): React.CSSProperties => ({ position: "absolute", left, top, display: "block" });
  return (
    <div style={{ position: "absolute", left: 0, top: 0, width: 3238, height: 3177, background: "#fff", overflow: "hidden" }}>
      <canvas ref={aRef} width={1900} height={1400} style={abs(0, 0)} />
      <canvas ref={bRef} width={1188} height={850} style={abs(2050, 200)} />
      <canvas ref={cRef} width={1900} height={1777} style={abs(0, 1400)} />
      <canvas ref={dRef} width={260} height={910} style={abs(1640, 1530)} />
      {panelLetter("(A)", 89, 32)}
      {panelLetter("(B)", 2061, 32)}
      {panelLetter("(C)", 89, 1426)}
    </div>
  );
}
